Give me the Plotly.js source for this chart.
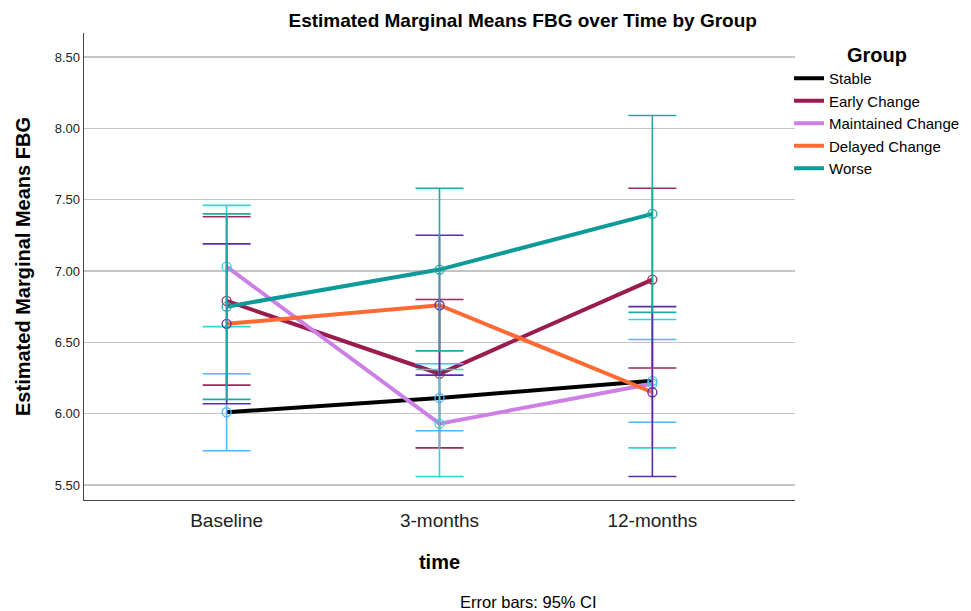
<!DOCTYPE html>
<html>
<head>
<meta charset="utf-8">
<script src="https://cdn.plot.ly/plotly-3.0.1.min.js"></script>
<style>html,body{margin:0;padding:0;background:#fff;}#chart{width:971px;height:611px;}</style>
</head>
<body>
<div id="chart"></div>
<script>
const categories = ['Baseline', '3-months', '12-months'];
const groups = ['Stable', 'Early Change', 'Maintained Change', 'Delayed Change', 'Worse'];

const stableMean = [6.01, 6.11, 6.23];
const stableLow  = [5.74, 5.88, 5.94];
const stableHigh = [6.28, 6.35, 6.52];

const earlyMean = [6.79, 6.28, 6.94];
const earlyLow  = [6.20, 5.76, 6.32];
const earlyHigh = [7.38, 6.80, 7.58];

const maintainedMean = [7.03, 5.93, 6.21];
const maintainedLow  = [6.61, 5.56, 5.76];
const maintainedHigh = [7.46, 6.31, 6.66];

const delayedMean = [6.63, 6.76, 6.15];
const delayedLow  = [6.07, 6.27, 5.56];
const delayedHigh = [7.19, 7.25, 6.75];

const worseMean = [6.75, 7.01, 7.40];
const worseLow  = [6.10, 6.44, 6.71];
const worseHigh = [7.40, 7.58, 8.09];

const yTicks = [5.5, 6.0, 6.5, 7.0, 7.5, 8.0, 8.5];

const lineColors = ['#000000', '#9a1b4f', '#cc80e6', '#ff6a33', '#0e9a98'];
const barColors  = ['#4db8ff', '#9e2a5c', '#33d4d4', '#5b2ca6', '#22a8a0'];

const means = [stableMean, earlyMean, maintainedMean, delayedMean, worseMean];
const lows  = [stableLow, earlyLow, maintainedLow, delayedLow, worseLow];
const highs = [stableHigh, earlyHigh, maintainedHigh, delayedHigh, worseHigh];

const FONT = '"Liberation Sans", Arial, Helvetica, sans-serif';

const traces = [];
groups.forEach((g, i) => {
  traces.push({
    x: categories, y: means[i], name: g, type: 'scatter', mode: 'lines',
    line: {color: lineColors[i], width: 4}, hoverinfo: 'skip'
  });
});
groups.forEach((g, i) => {
  traces.push({
    x: categories, y: means[i], name: g + ' CI', type: 'scatter', mode: 'markers',
    showlegend: false,
    marker: {symbol: 'circle-open', size: 9, color: barColors[i], line: {width: 1.3, color: barColors[i]}},
    error_y: {
      type: 'data', symmetric: false,
      array: highs[i].map((h, k) => h - means[i][k]),
      arrayminus: lows[i].map((l, k) => means[i][k] - l),
      color: barColors[i], thickness: 1.6, width: 24
    }
  });
});

const layout = {
  width: 971, height: 611,
  margin: {l: 84, r: 176, t: 33, b: 111, autoexpand: false},
  paper_bgcolor: '#ffffff', plot_bgcolor: '#ffffff',
  font: {family: FONT, color: '#000'},
  title: {
    text: '<b>Estimated Marginal Means FBG over Time by Group</b>',
    font: {family: FONT, size: 19, color: '#000'},
    xref: 'paper', x: 0.617, xanchor: 'center',
    yref: 'container', y: 0.967, yanchor: 'middle'
  },
  xaxis: {
    type: 'category', range: [-0.67, 2.67],
    showgrid: false, zeroline: false,
    showline: true, linecolor: '#444', linewidth: 1.3,
    ticks: '', ticklabelstandoff: 3, tickfont: {family: FONT, size: 19, color: '#222'},
    title: {text: '<b>time</b>', font: {family: FONT, size: 20, color: '#000'}, standoff: 25}
  },
  yaxis: {
    range: [5.395, 8.668], tickvals: yTicks, tickformat: '.2f',
    showgrid: true, gridcolor: '#c4c4c4', gridwidth: 1.5, zeroline: false,
    showline: true, linecolor: '#444', linewidth: 1.3,
    ticks: '', tickfont: {family: FONT, size: 13, color: '#222'},
    title: {text: '<b>Estimated Marginal Means FBG</b>', font: {family: FONT, size: 20, color: '#000'}, standoff: 18}
  },
  showlegend: true,
  legend: {
    x: 0.9916, xanchor: 'left', y: 0.9936, yanchor: 'top',
    font: {family: FONT, size: 15, color: '#000'},
    title: {text: '<b>Group</b>', font: {family: FONT, size: 20, color: '#000'}, side: 'top center'},
    bgcolor: 'rgba(0,0,0,0)', borderwidth: 0, itemwidth: 30, tracegroupgap: 0
  },
  annotations: [{
    text: 'Error bars: 95% CI', xref: 'paper', yref: 'paper',
    x: 0.6245, y: -0.2184, xanchor: 'center', yanchor: 'middle',
    showarrow: false, font: {family: FONT, size: 16.5, color: '#000'}
  }]
};

Plotly.newPlot('chart', traces, layout, {displayModeBar: false, staticPlot: true});
</script>
</body>
</html>
